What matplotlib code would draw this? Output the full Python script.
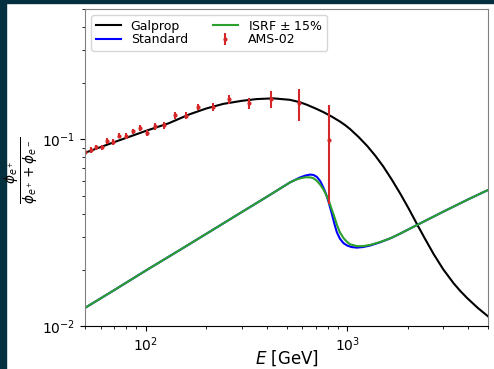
import numpy as np
import matplotlib
matplotlib.use("Agg")
from matplotlib import pyplot as plt
from matplotlib.patches import Rectangle

# Galprop curve
gal_E = [50, 70, 100, 130, 165.6, 200, 242.5, 300, 355, 430, 520, 580, 630,
         700, 763, 840, 923, 980, 1035, 1140, 1260, 1380, 1511, 1670, 1837,
         2020, 2223, 2440, 2686, 3000, 3376, 3640, 3936, 4460, 5045]
gal_y = [0.0848, 0.0968, 0.111, 0.122, 0.1365, 0.1465, 0.155, 0.161, 0.1645,
         0.166, 0.163, 0.1585, 0.1535, 0.1462, 0.140, 0.1324, 0.1245, 0.119,
         0.1135, 0.1030, 0.0920, 0.0817, 0.0716, 0.0606, 0.0511, 0.0426,
         0.0351, 0.0292, 0.0243, 0.0201, 0.01694, 0.01542, 0.01413, 0.01247,
         0.01118]

# Standard model curve
std_E = [50, 70, 100, 150, 200, 300, 400, 520, 583, 620, 655, 680, 707, 735,
         762, 785, 807, 839, 865, 889, 920, 959, 1000, 1050, 1117, 1200, 1300,
         1458, 1650, 1837, 2224, 3000, 4000, 5045]
std_y = [0.0125, 0.0156, 0.0198, 0.0258, 0.0312, 0.0408, 0.0493, 0.0588,
         0.0625, 0.0640, 0.0648, 0.0645, 0.0630, 0.0598, 0.0552, 0.0510,
         0.0467, 0.0400, 0.0352, 0.0318, 0.0294, 0.0278, 0.0270, 0.0265,
         0.0263, 0.0265, 0.0270, 0.0281, 0.0296, 0.0313, 0.0348, 0.0410,
         0.0478, 0.0538]

# ISRF +/- 15% curve
isrf_E = [50, 70, 100, 150, 200, 300, 400, 520, 560, 583, 620, 655, 679, 707,
          734, 762, 793, 815, 839, 865, 889, 920, 959, 1000, 1035, 1117, 1200,
          1300, 1458, 1650, 1837, 2224, 3000, 4000, 5045]
isrf_y = [0.0125, 0.0156, 0.0198, 0.0258, 0.0312, 0.0408, 0.0493, 0.0588,
          0.0610, 0.0618, 0.0627, 0.0626, 0.0620, 0.0600, 0.0573, 0.0540,
          0.0496, 0.0462, 0.0421, 0.0383, 0.0349, 0.0318, 0.0296, 0.0282,
          0.0274, 0.0268, 0.0268, 0.0272, 0.0282, 0.0296, 0.0313, 0.0348,
          0.0410, 0.0478, 0.0538]

# AMS-02 positron fraction
ams_E = [50.1, 53.4, 56.9, 60.6, 64.5, 69.1, 74.0, 79.8, 86.2, 93.3, 101.5,
         111.7, 123.3, 139.4, 158.1, 181.5, 214.8, 259, 324, 420, 577, 817]
ams_y = [0.0855, 0.0876, 0.0906, 0.0906, 0.0984, 0.0972, 0.1047, 0.1042,
         0.1104, 0.1156, 0.1077, 0.1175, 0.1189, 0.1351, 0.134, 0.149, 0.149,
         0.164, 0.156, 0.164, 0.156, 0.0988]
ams_err = [0.003, 0.003, 0.003, 0.003, 0.0035, 0.0035, 0.0035, 0.0035, 0.004,
           0.004, 0.004, 0.0045, 0.0045, 0.006, 0.006, 0.006, 0.007, 0.009,
           0.011, 0.017, 0.030, 0.054]

fig = plt.figure(figsize=(4.94, 3.69), dpi=100)
ax = fig.add_axes([85 / 494, 1 - 326 / 369, 403 / 494, 317 / 369])

# dark page border from the screenshot
fig.patches.append(Rectangle((0, 0), 6 / 494, 1, transform=fig.transFigure,
                             color="#05303f", zorder=-1))
fig.patches.append(Rectangle((0, 1 - 3 / 369), 1, 3 / 369,
                             transform=fig.transFigure, color="#05303f", zorder=-1))

ax.plot(gal_E, gal_y, color="black", lw=1.5, label="Galprop")
ax.plot(std_E, std_y, color="blue", lw=1.5, label="Standard")
ax.plot(isrf_E, isrf_y, color="tab:green", lw=1.5, label=r"ISRF $\pm$ 15%")
ax.errorbar(ams_E, ams_y, yerr=ams_err, fmt=".", color="tab:red",
            markersize=4, elinewidth=1.5, label="AMS-02")

ax.set_xscale("log")
ax.set_yscale("log")
ax.set_xlim(50, 5000)
ax.set_ylim(0.01, 0.5)

ax.set_xlabel(r"$E$ [GeV]", fontsize=12)
ax.xaxis.set_label_coords(0.5, -0.07)
ax.set_ylabel(r"$\frac{\phi_{e^+}}{\phi_{e^+}+\phi_{e^-}}$", fontsize=14)
ax.yaxis.set_label_coords(-0.11, 0.49)

for side in ["left", "top", "right"]:
    ax.spines[side].set_color("#808080")
ax.spines["bottom"].set_color("black")

ax.legend(loc="upper left", ncol=2, fontsize=9, framealpha=0.8,
          labelspacing=0.05, borderpad=0.35, columnspacing=2.0)

fig.savefig("out.png", dpi=100)
